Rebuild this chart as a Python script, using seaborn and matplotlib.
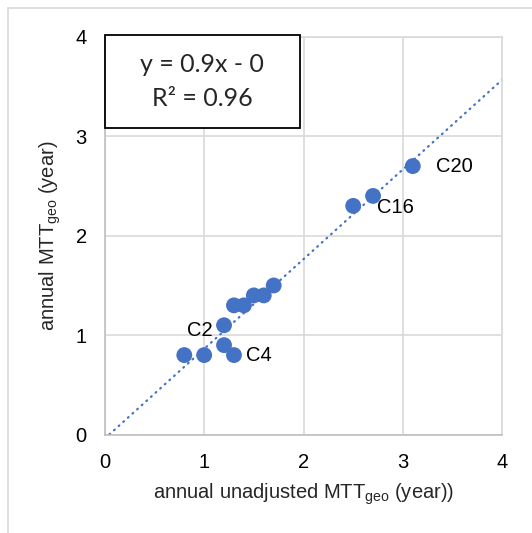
import numpy as np
import pandas as pd
import seaborn as sns
import matplotlib
matplotlib.use("Agg")
import matplotlib.pyplot as plt
from matplotlib.patches import Rectangle

x_unadj = [0.8, 1.0, 1.2, 1.3, 1.2, 1.3, 1.4, 1.5, 1.6, 1.7, 2.5, 2.7, 3.1]
y_adj = [0.8, 0.8, 0.9, 0.8, 1.1, 1.3, 1.3, 1.4, 1.4, 1.5, 2.3, 2.4, 2.7]
labels = ["", "", "", "C4", "C2", "", "", "", "", "", "", "C16", "C20"]
ticks = [0, 1, 2, 3, 4]
eq_text = "y = 0.9x - 0\nR² = 0.96"

sns.set_theme(style="white")
plt.rcParams['font.family'] = ['Liberation Sans', 'DejaVu Sans']
plt.rcParams['mathtext.fontset'] = 'custom'
plt.rcParams['mathtext.rm'] = 'Liberation Sans'
plt.rcParams['mathtext.it'] = 'Liberation Sans'

df = pd.DataFrame({"x": x_unadj, "y": y_adj, "label": labels})
blue = "#4472C4"

fig = plt.figure(figsize=(5.32, 5.33), dpi=100)
ax = fig.add_axes([0.197, 0.1845, 0.747, 0.7465])

# figure border (light gray, left & top visible)
fig.add_artist(plt.Line2D([0.015, 0.015], [0, 0.985], color="#d9d9d9", lw=1.2))
fig.add_artist(plt.Line2D([0.015, 1.0], [0.985, 0.985], color="#d9d9d9", lw=1.2))

ax.set_xlim(0, 4)
ax.set_ylim(0, 4)
ax.set_xticks(ticks)
ax.set_yticks(ticks)
ax.grid(True, color="#d9d9d9", lw=1.2)
for s in ax.spines.values():
    s.set_color("#d9d9d9")
    s.set_linewidth(1.2)
ax.spines['left'].set_color("#bfbfbf")
ax.spines['bottom'].set_color("#bfbfbf")

# trendline
slope, intercept = np.polyfit(x_unadj, y_adj, 1)
xs = np.array([0.0, 4.0])
ax.plot(xs, slope * xs + intercept, color=blue, lw=1.6,
        linestyle=(0, (0.4, 2.4)), dash_capstyle='round', zorder=2)

sns.scatterplot(data=df, x="x", y="y", ax=ax, color=blue, s=130,
                edgecolor="none", zorder=3, clip_on=False)

offsets = {"C20": (17, 0, "left"), "C16": (3, -8, "left"),
           "C2": (-8, -4, "right"), "C4": (9, 0, "left")}
for xi, yi, lab in zip(x_unadj, y_adj, labels):
    if lab:
        dx, dy, ha = offsets[lab]
        ax.annotate(lab, (xi, yi), xytext=(dx, dy), textcoords="offset points",
                    ha=ha, va="center", fontsize=14.5, color="black")

ax.tick_params(axis='both', length=0, labelsize=14.5, colors="black")
ax.tick_params(axis='y', pad=13)
ax.tick_params(axis='x', pad=13)
ax.set_xlabel("annual unadjusted MTT$_{\\mathrm{geo}}$ (year))", fontsize=14.5, labelpad=7)
ax.set_ylabel("annual MTT$_{\\mathrm{geo}}$ (year)", fontsize=14.5, labelpad=9)

# equation box
ax.add_patch(Rectangle((0.0, 0.771), 0.491, 0.233, transform=ax.transAxes,
                       facecolor="white", edgecolor="black", lw=1.3,
                       clip_on=False, zorder=5))
ax.text(0.2455, 0.8875, eq_text, transform=ax.transAxes, ha="center", va="center",
        fontsize=18, family=["Lato", "DejaVu Sans"], linespacing=1.55, zorder=6)

fig.savefig("out.png", dpi=100)
